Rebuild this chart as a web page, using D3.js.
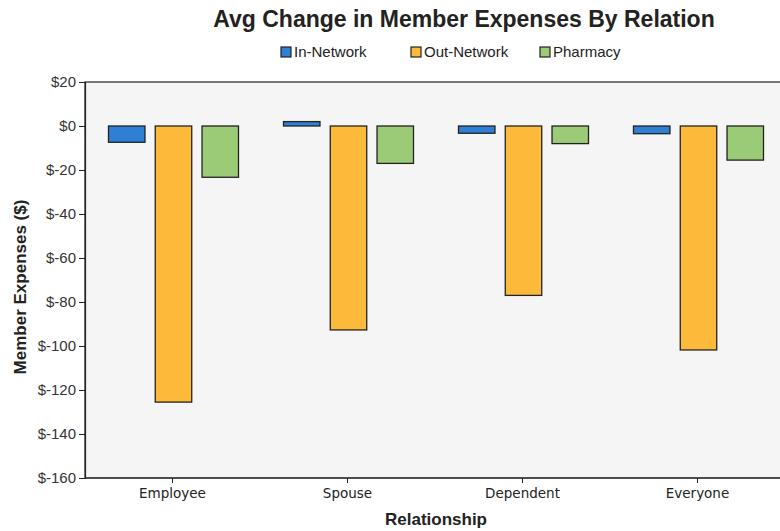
<!DOCTYPE html>
<html>
<head>
<meta charset="utf-8">
<script src="https://cdn.jsdelivr.net/npm/d3@7"></script>
<style>
  body { margin: 0; background: #fff; }
  svg { display: block; font-family: "Liberation Sans", Arial, sans-serif; }
</style>
</head>
<body>
<svg id="chart" width="780" height="531"></svg>
<script>
const categories = ["Employee", "Spouse", "Dependent", "Everyone"];
const seriesNames = ["In-Network", "Out-Network", "Pharmacy"];
const inNetwork = [-7.4, 2, -3.3, -3.5];
const outNetwork = [-125.5, -92.7, -77, -101.8];
const pharmacy = [-23.3, -17, -8, -15.5];
const yTicks = [20, 0, -20, -40, -60, -80, -100, -120, -140, -160];
const colors = ["#2f7fd4", "#fdb93a", "#9ccb78"];

const seriesValues = [inNetwork, outNetwork, pharmacy];
const data = categories.map((c, i) => ({
  category: c,
  values: seriesNames.map((s, j) => ({ series: s, value: seriesValues[j][i] }))
}));

const svg = d3.select("#chart");
const plot = { left: 85, right: 785, top: 82, bottom: 478 };

// plot background
svg.append("rect")
  .attr("x", plot.left).attr("y", plot.top)
  .attr("width", plot.right - plot.left).attr("height", plot.bottom - plot.top)
  .attr("fill", "#f5f5f5").attr("stroke", "#222").attr("stroke-width", 1.2);

const y = d3.scaleLinear().domain([-160, 20]).range([plot.bottom, plot.top]);
const x0 = d3.scaleBand().domain(categories).range([plot.left, plot.right]);
const groupInner = 130;
const x1 = d3.scaleBand().domain(seriesNames).range([0, groupInner]).paddingInner(0.22);
const groupOffset = (x0.bandwidth() - groupInner) / 2 + 1;

// bars
const groups = svg.append("g").selectAll("g").data(data).join("g")
  .attr("transform", d => `translate(${x0(d.category) + groupOffset},0)`);
groups.selectAll("rect").data(d => d.values).join("rect")
  .attr("x", d => x1(d.series))
  .attr("width", x1.bandwidth())
  .attr("y", d => y(Math.max(0, d.value)))
  .attr("height", d => Math.abs(y(d.value) - y(0)))
  .attr("fill", (d, i) => colors[i])
  .attr("stroke", "#222").attr("stroke-width", 1.3);

// y axis
const yAxis = svg.append("g")
  .attr("transform", `translate(${plot.left},0)`)
  .call(d3.axisLeft(y).tickValues(yTicks).tickSize(6).tickPadding(3).tickFormat(d => "$" + d));
yAxis.select(".domain").attr("stroke", "#222").attr("stroke-width", 1.2);
yAxis.selectAll(".tick line").attr("stroke", "#222");
yAxis.selectAll("text").attr("font-size", 15).attr("fill", "#333")
  .attr("font-family", "'Liberation Sans', Arial, sans-serif");

// x axis
const xAxis = svg.append("g")
  .attr("transform", `translate(0,${plot.bottom})`)
  .call(d3.axisBottom(x0).tickSize(5).tickPadding(5));
xAxis.select(".domain").remove();
svg.append("line").attr("x1", plot.left).attr("x2", plot.right)
  .attr("y1", plot.bottom).attr("y2", plot.bottom).attr("stroke", "#222").attr("stroke-width", 1.2);
xAxis.selectAll(".tick line").attr("stroke", "#222");
xAxis.selectAll("text").attr("font-size", 13.5).attr("fill", "#222")
  .attr("font-family", "'DejaVu Sans', Verdana, sans-serif");

// title
svg.append("text").attr("x", 464).attr("y", 27).attr("text-anchor", "middle")
  .attr("font-size", 23).attr("font-weight", "bold").attr("fill", "#222")
  .text("Avg Change in Member Expenses By Relation");

// legend
const legendX = [281, 411, 540];
const legend = svg.append("g").selectAll("g").data(seriesNames).join("g")
  .attr("transform", (d, i) => `translate(${legendX[i]},47)`);
legend.append("rect").attr("width", 10).attr("height", 10)
  .attr("fill", (d, i) => colors[i]).attr("stroke", "#222").attr("stroke-width", 1.2);
legend.append("text").attr("x", 13).attr("y", 10).attr("font-size", 15).attr("fill", "#222")
  .text(d => d);

// axis titles
svg.append("text")
  .attr("transform", `translate(26,287) rotate(-90)`)
  .attr("text-anchor", "middle").attr("font-size", 17).attr("font-weight", "bold").attr("fill", "#222")
  .text("Member Expenses ($)");
svg.append("text").attr("x", 436).attr("y", 525).attr("text-anchor", "middle")
  .attr("font-size", 17).attr("font-weight", "bold").attr("fill", "#222")
  .text("Relationship");
</script>
</body>
</html>
